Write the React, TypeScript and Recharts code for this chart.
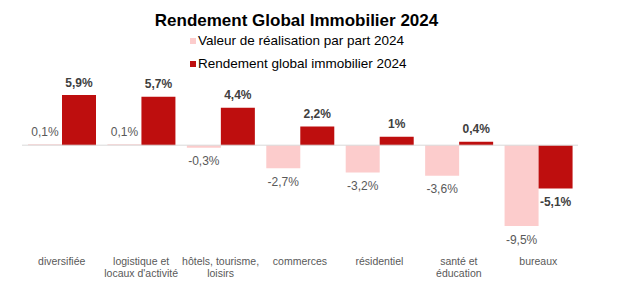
import { BarChart, Bar, XAxis, YAxis, ReferenceLine, LabelList } from 'recharts';

const categories = [
  'diversifiée',
  "logistique et\nlocaux d'activité",
  'hôtels, tourisme,\nloisirs',
  'commerces',
  'résidentiel',
  'santé et\néducation',
  'bureaux'
];
const valeurRealisation = [0.1, 0.1, -0.3, -2.7, -3.2, -3.6, -9.5];
const rendementGlobal = [5.9, 5.7, 4.4, 2.2, 1, 0.4, -5.1];
const seriesNames = ['Valeur de réalisation par part 2024', 'Rendement global immobilier 2024'];

const data = categories.map((c, i) => ({
  cat: c,
  vr: valeurRealisation[i],
  rg: rendementGlobal[i]
}));

const PINK = '#fccccc';
const RED = '#be0e0e';
const FONT = '"Liberation Sans", Arial, sans-serif';

const fmt = (v: number) => String(v).replace('.', ',') + '%';

function makeLabel(color: string, bold: boolean) {
  return (props: any) => {
    const { x, y, width, height, value } = props;
    const top = Math.min(y, y + height);
    const bottom = Math.max(y, y + height);
    const ty = value >= 0 ? top - 8.5 : bottom + 17.5;
    return (
      <text
        x={x + width / 2}
        y={ty}
        textAnchor="middle"
        fill={color}
        fontSize={12}
        fontWeight={bold ? 'bold' : 'normal'}
        fontFamily={FONT}
      >
        {fmt(value)}
      </text>
    );
  };
}

function CatTick(props: any) {
  const { x, payload } = props;
  const lines = String(payload.value).split('\n');
  return (
    <text x={x} y={265} textAnchor="middle" fill="#595959" fontSize={10.5} fontFamily={FONT}>
      {lines.map((l, i) => (
        <tspan key={i} x={x} dy={i === 0 ? 0 : 12}>
          {l}
        </tspan>
      ))}
    </text>
  );
}

export default function App() {
  return (
    <div style={{ position: 'relative', width: 623, height: 286, fontFamily: FONT, background: '#fff' }}>
      <style>{'body{margin:0}'}</style>
      <BarChart
        width={623}
        height={286}
        data={data}
        margin={{ top: 95, right: 45, bottom: 30, left: 22 }}
        barGap={0}
        barSize={34}
      >
        <XAxis dataKey="cat" axisLine={false} tickLine={false} tick={<CatTick />} height={30} interval={0} />
        <YAxis hide domain={[-9.5, 5.9]} />
        <ReferenceLine y={0} stroke="#d9d9d9" strokeWidth={1} />
        <Bar dataKey="vr" fill={PINK} isAnimationActive={false}>
          <LabelList dataKey="vr" content={makeLabel('#595959', false)} />
        </Bar>
        <Bar dataKey="rg" fill={RED} isAnimationActive={false}>
          <LabelList dataKey="rg" content={makeLabel('#404040', true)} />
        </Bar>
      </BarChart>
      <div
        style={{
          position: 'absolute',
          left: 0,
          top: 11,
          width: 593,
          textAlign: 'center',
          fontSize: 17,
          fontWeight: 'bold',
          color: '#000'
        }}
      >
        Rendement Global Immobilier 2024
      </div>
      {seriesNames.map((n, i) => (
        <div
          key={n}
          style={{
            position: 'absolute',
            left: 190,
            top: 33 + i * 23,
            fontSize: 13.5,
            color: '#000',
            display: 'flex',
            alignItems: 'center',
            whiteSpace: 'nowrap'
          }}
        >
          <span
            style={{
              display: 'inline-block',
              width: 6,
              height: 6,
              background: i === 0 ? PINK : RED,
              marginRight: 2
            }}
          />
          {n}
        </div>
      ))}
    </div>
  );
}
